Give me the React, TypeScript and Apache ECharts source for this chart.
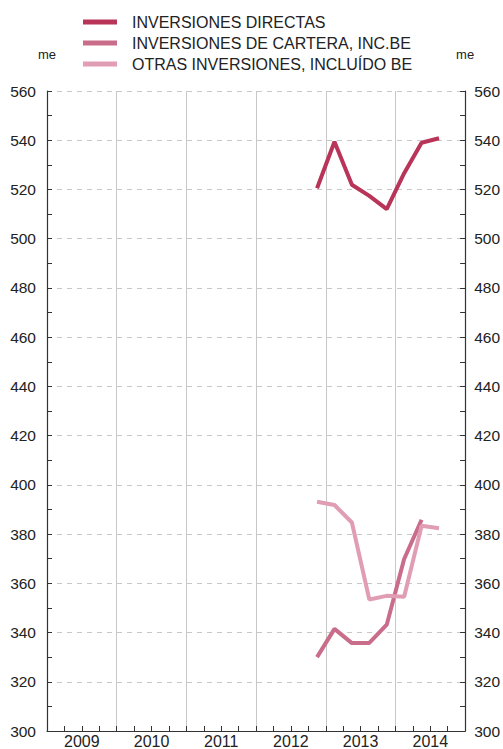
import React, { useEffect, useRef } from "react";
import * as echarts from "echarts";

const years = ["2009", "2010", "2011", "2012", "2013", "2014"];
const quarters = ["T1", "T2", "T3", "T4"];
const quarterCategories = years.flatMap((y) => quarters.map((q) => `${y} ${q}`));

const seriesNames = [
  "INVERSIONES DIRECTAS",
  "INVERSIONES DE CARTERA, INC.BE",
  "OTRAS INVERSIONES, INCLUÍDO BE",
];

// values from 2012 T4 onward (earlier quarters empty)
const startIndex = 15;
const directas = [520.5, 539.4, 521.9, 517.4, 512.0, 526.6, 539.0, 540.8];
const cartera = [330.0, 341.5, 335.7, 335.8, 343.2, 369.9, 385.8];
const otras = [393.1, 391.8, 384.7, 353.4, 354.9, 354.5, 383.4, 382.4];

const yMin = 300;
const yMax = 560;
const yStep = 20;
const unit = "me";

const colors = ["#b93459", "#c96d8a", "#e09db3"];

function pad(values: number[]): (number | null)[] {
  const out: (number | null)[] = quarterCategories.map(() => null);
  values.forEach((v, i) => {
    out[startIndex + i] = v;
  });
  return out;
}

export default function App() {
  const ref = useRef<HTMLDivElement>(null);

  useEffect(() => {
    if (!ref.current) return;
    const chart = echarts.init(ref.current, undefined, { renderer: "svg" });
    const font = "'Liberation Sans', Arial, Helvetica, sans-serif";
    const axisColor = "#333";

    const yAxisBase = (position: "left" | "right") => ({
      type: "value" as const,
      position,
      min: yMin,
      max: yMax,
      interval: yStep,
      name: unit,
      nameLocation: "end" as const,
      nameGap: 30,
      nameTextStyle: {
        fontFamily: font,
        fontSize: 13,
        color: "#222",
        align: "center" as const,
      },
      axisLine: { show: true, lineStyle: { color: axisColor, width: 1.2 } },
      axisTick: { show: true, inside: true, length: 5, lineStyle: { color: axisColor } },
      minorTick: { show: true, splitNumber: 2, length: 5, lineStyle: { color: axisColor } },
      axisLabel: {
        fontFamily: font,
        fontSize: 15.5,
        color: "#222",
        margin: position === "left" ? 11 : 9,
      },
      splitLine: {
        show: position === "left",
        lineStyle: { color: "#c8c8c8", type: [5, 5] as any, width: 1 },
      },
    });

    const makeSeries = (i: number, values: number[]) => ({
      name: seriesNames[i],
      type: "line" as const,
      data: pad(values),
      xAxisIndex: 0,
      yAxisIndex: 0,
      showSymbol: false,
      symbol: "none",
      connectNulls: false,
      lineStyle: { color: colors[i], width: 4 },
      itemStyle: { color: colors[i] },
    });

    chart.setOption({
      animation: false,
      backgroundColor: "#fff",
      legend: {
        orient: "vertical",
        left: 78,
        top: 9,
        itemWidth: 34,
        itemHeight: 5,
        itemGap: 5,
        icon: "rect",
        textStyle: {
          fontFamily: font,
          fontSize: 16,
          color: "#222",
          lineHeight: 16,
          padding: [0, 0, 0, 10],
        },
        data: seriesNames,
      },
      grid: { left: 47, right: 37, top: 91, bottom: 17, containLabel: false },
      xAxis: [
        {
          type: "category",
          data: quarterCategories,
          position: "bottom",
          boundaryGap: true,
          axisLine: { show: true, lineStyle: { color: axisColor, width: 1.2 } },
          axisTick: { show: true, inside: true, length: 5, interval: 0, lineStyle: { color: axisColor } },
          axisLabel: { show: false },
          splitLine: { show: false },
        },
        {
          type: "category",
          data: years,
          position: "bottom",
          boundaryGap: true,
          axisLine: { show: false },
          axisTick: { show: false },
          axisLabel: {
            show: true,
            interval: 0,
            fontFamily: font,
            fontSize: 16,
            color: "#222",
            margin: 2,
          },
          splitLine: { show: true, interval: 0, lineStyle: { color: "#c8c8c8", width: 1 } },
        },
      ],
      yAxis: [yAxisBase("left"), yAxisBase("right")],
      series: [makeSeries(0, directas), makeSeries(1, cartera), makeSeries(2, otras)],
    });

    return () => chart.dispose();
  }, []);

  return (
    <div
      ref={ref}
      style={{ position: "fixed", left: 0, top: 0, width: 503, height: 749 }}
    />
  );
}
